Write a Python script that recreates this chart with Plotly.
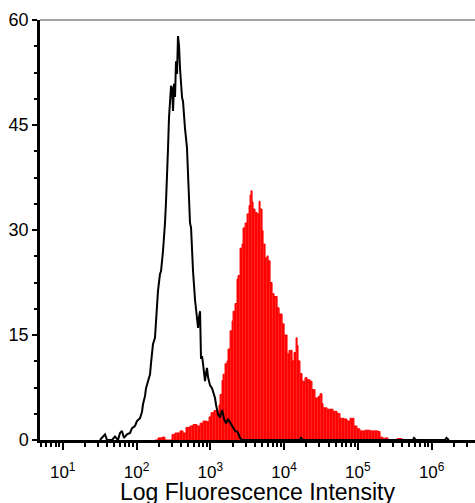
import plotly.graph_objects as go

# Control (unstained) histogram: log10 intensity and event counts
control_log_intensity = [1.505, 1.573, 1.600, 1.668, 1.708, 1.749, 1.776, 1.803, 1.830, 1.871,
                         1.912, 1.939, 1.979, 2.006, 2.047, 2.074, 2.088, 2.115, 2.129, 2.155,
                         2.183, 2.196, 2.223, 2.250, 2.264, 2.291, 2.318, 2.332, 2.359, 2.373,
                         2.386, 2.400, 2.413, 2.427, 2.440, 2.454, 2.468, 2.481, 2.495, 2.508,
                         2.522, 2.535, 2.549, 2.562, 2.576, 2.590, 2.603, 2.617, 2.630, 2.644,
                         2.657, 2.671, 2.684, 2.698, 2.712, 2.725, 2.739, 2.752, 2.766, 2.793,
                         2.807, 2.820, 2.834, 2.847, 2.861, 2.874, 2.888, 2.901, 2.915, 2.928,
                         2.942, 2.955, 2.969, 2.983, 2.996, 3.023, 3.050, 3.064, 3.078, 3.091,
                         3.105, 3.132, 3.159, 3.173, 3.186, 3.213, 3.240, 3.268, 3.295, 3.322,
                         3.335, 3.362, 3.376, 3.403, 3.430, 4.215, 4.230, 4.256, 5.746, 5.760,
                         5.787, 6.180, 6.200, 6.234]
control_counts = [0, 0.8, 0, 0, 0.5, 0, 1.0, 1.3, 0.3, 0.8,
                  1.0, 1.7, 2.0, 2.7, 3.1, 4.0, 5.1, 6.3, 7.4, 8.4,
                  9.4, 10.9, 13.7, 14.6, 16.6, 21.3, 23.7, 24.1, 27.0, 30.3,
                  31.0, 34.1, 37.0, 41.7, 46.0, 49.4, 50.6, 50.3, 47.0, 50.9,
                  49.0, 54.1, 52.3, 57.7, 56.3, 53.0, 50.3, 48.9, 48.4, 45.6,
                  44.5, 43.1, 41.7, 38.0, 32.7, 31.0, 30.3, 27.0, 24.1, 20.0,
                  18.4, 17.0, 16.0, 17.5, 18.4, 11.6, 12.0, 10.9, 9.5, 8.4,
                  9.6, 10.3, 9.0, 8.0, 7.8, 7.4, 6.5, 6.0, 5.0, 4.1,
                  3.7, 3.2, 4.3, 3.7, 3.0, 2.4, 3.0, 2.5, 2.0, 1.7,
                  1.3, 1.2, 1.0, 0.3, 0, 0, 0.3, 0, 0, 0.3,
                  0, 0, 0.3, 0]

# Stained sample histogram
stained_log_intensity = [2.250, 2.291, 2.345, 2.386, 2.481, 2.522, 2.590, 2.630, 2.671, 2.725,
                         2.766, 2.820, 2.861, 2.901, 2.955, 2.983, 3.010, 3.050, 3.091, 3.118,
                         3.132, 3.159, 3.173, 3.200, 3.227, 3.240, 3.268, 3.295, 3.308, 3.335,
                         3.362, 3.376, 3.403, 3.430, 3.444, 3.471, 3.498, 3.525, 3.539, 3.552,
                         3.566, 3.579, 3.606, 3.634, 3.661, 3.674, 3.701, 3.715, 3.742, 3.769,
                         3.783, 3.810, 3.837, 3.864, 3.905, 3.932, 3.973, 4.000, 4.040, 4.067,
                         4.108, 4.135, 4.162, 4.176, 4.189, 4.215, 4.243, 4.283, 4.310, 4.351,
                         4.378, 4.419, 4.459, 4.486, 4.513, 4.527, 4.581, 4.622, 4.663, 4.717,
                         4.757, 4.811, 4.852, 4.893, 4.920, 4.947, 4.988, 5.028, 5.096, 5.165,
                         5.232, 5.273, 5.300, 5.341, 5.367, 5.408, 5.530, 5.572, 5.599]
stained_counts = [0, 0.3, 0.4, 0, 0.8, 1.0, 1.3, 1.0, 1.8, 2.0,
                  2.2, 2.0, 2.4, 2.7, 2.6, 3.3, 3.9, 4.2, 4.1, 5.0,
                  6.5, 8.5, 9.4, 10.9, 11.3, 13.0, 15.6, 17.0, 18.4, 19.5,
                  23.0, 23.5, 27.4, 28.0, 30.3, 31.0, 32.3, 33.5, 35.0, 35.6,
                  34.0, 33.0, 32.5, 32.3, 34.1, 33.0, 29.9, 28.0, 26.0, 26.3,
                  25.6, 22.5, 20.9, 20.5, 18.9, 18.0, 16.6, 15.0, 12.3, 12.8,
                  11.3, 12.5, 14.6, 13.5, 11.3, 9.5, 8.4, 8.9, 8.6, 8.4,
                  7.2, 6.0, 6.2, 6.6, 5.2, 4.6, 4.4, 4.4, 4.1, 3.8,
                  3.1, 3.0, 2.7, 3.1, 3.1, 2.0, 1.6, 1.3, 1.4, 1.3,
                  1.3, 1.2, 0.4, 0.2, 0.3, 0, 0.2, 0.2, 0]

x_tick_exponents = [1, 2, 3, 4, 5, 6]
y_tick_values = [0, 15, 30, 45, 60]
x_title = "Log Fluorescence Intensity"

FONT = "Liberation Sans, Arial, sans-serif"

fig = go.Figure()
fig.add_trace(go.Scatter(
    x=[10 ** v for v in stained_log_intensity], y=stained_counts,
    mode="lines", line=dict(color="#ff0000", width=1, shape="hv"),
    fill="tozeroy", fillcolor="#ff0000",
    fillpattern=dict(shape="|", fgcolor="#ff5a5a", bgcolor="#ff0000", size=3, solidity=0.25),
    hoverinfo="skip", showlegend=False))
fig.add_trace(go.Scatter(
    x=[10 ** v for v in control_log_intensity], y=control_counts,
    mode="lines", line=dict(color="#000000", width=2),
    hoverinfo="skip", showlegend=False))

fig.add_shape(type="line", xref="paper", yref="paper", x0=0, x1=1, y0=1, y1=1,
              line=dict(color="#444444", width=1))

fig.add_annotation(text=x_title, xref="paper", yref="paper", x=0.5, y=-0.088,
                   xanchor="center", yanchor="top", showarrow=False,
                   font=dict(size=23, family=FONT, color="black"))

fig.update_layout(
    width=475, height=503,
    margin=dict(l=40, r=0, t=20, b=63),
    paper_bgcolor="white", plot_bgcolor="white",
    font=dict(family=FONT, color="black"),
    xaxis=dict(
        type="log", range=[0.692, 6.587],
        tickmode="array",
        tickvals=[10 ** e for e in x_tick_exponents],
        ticktext=[f"10<sup>{e}</sup>" for e in x_tick_exponents],
        ticks="outside", ticklen=7, tickwidth=1.5, tickcolor="black",
        minor=dict(ticks="outside", ticklen=4, tickwidth=1.5, tickcolor="black", dtick="D1"),
        showline=True, linecolor="black", linewidth=2.5,
        showgrid=False, zeroline=False,
        tickfont=dict(size=17, family=FONT),
        ticklabelstandoff=8,
    ),
    yaxis=dict(
        range=[0, 60], tickmode="array", tickvals=y_tick_values,
        ticks="outside", ticklen=5, tickwidth=1.5, tickcolor="black",
        minor=dict(ticks="outside", ticklen=3, tickwidth=1.5, tickcolor="black", dtick=3.75, tick0=0),
        showline=True, linecolor="black", linewidth=2.5,
        showgrid=False, zeroline=False,
        tickfont=dict(size=18, family=FONT),
        ticklabelstandoff=0,
    ),
)

fig.write_html("out.html", config={"displayModeBar": False},
               post_script="document.body.style.margin='0px';")
